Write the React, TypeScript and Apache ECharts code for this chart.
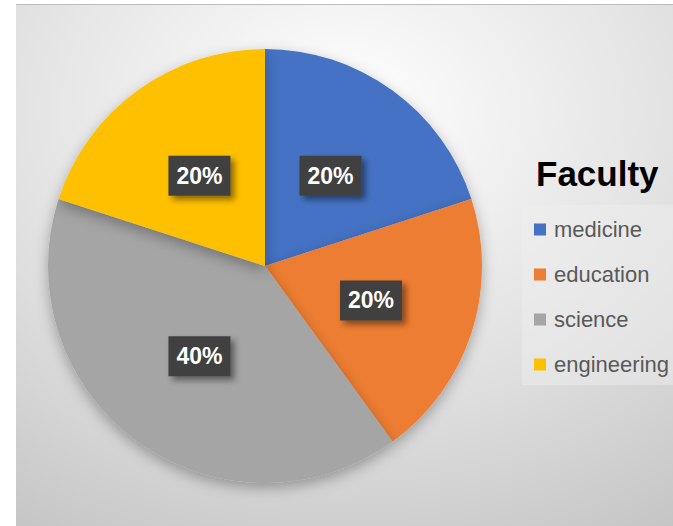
import React, { useEffect, useRef } from "react";
import * as echarts from "echarts";

const categories = ["medicine", "education", "science", "engineering"];
const values = [1, 1, 2, 1];
const colors = ["#4472C4", "#ED7D31", "#A5A5A5", "#FFC000"];
const titleText = "Faculty";

export default function App() {
  const ref = useRef<HTMLDivElement>(null);
  useEffect(() => {
    const chart = echarts.init(ref.current!, null, { renderer: "svg" });
    chart.setOption({
      animation: false,
      graphic: [
        {
          type: "rect",
          z: -10,
          shape: { x: 16, y: 4, width: 680, height: 540 },
          style: {
            fill: new echarts.graphic.RadialGradient(0.48, 0.2, 0.95, [
              { offset: 0, color: "#ffffff" },
              { offset: 0.55, color: "#e0e0e0" },
              { offset: 1, color: "#c2c2c2" },
            ]),
          },
        },
        {
          type: "line",
          z: -9,
          shape: { x1: 16, y1: 4.5, x2: 680, y2: 4.5 },
          style: { stroke: "#bdbdbd", lineWidth: 1 },
        },
        {
          type: "rect",
          z: -8,
          shape: { x: 522, y: 205, width: 160, height: 180 },
          style: { fill: "rgba(240,240,240,0.45)" },
        },
      ],
      title: {
        text: titleText,
        left: 536,
        top: 156,
        padding: 0,
        textStyle: {
          fontSize: 35,
          fontWeight: "bold",
          color: "#000000",
          fontFamily: "Liberation Sans",
        },
      },
      legend: {
        orient: "vertical",
        left: 534,
        top: 218,
        padding: 0,
        icon: "rect",
        itemWidth: 12,
        itemHeight: 12,
        itemGap: 22,
        data: categories,
        textStyle: {
          fontSize: 22,
          lineHeight: 23,
          color: "#595959",
          fontFamily: "Liberation Sans",
          padding: [0, 0, 0, 3],
        },
      },
      series: [
        {
          type: "pie",
          center: [265, 266],
          radius: 217,
          startAngle: 90,
          clockwise: true,
          color: colors,
          itemStyle: {
            borderWidth: 0,
            shadowBlur: 14,
            shadowColor: "rgba(0,0,0,0.3)",
            shadowOffsetY: 5,
          },
          label: {
            show: true,
            position: "inside",
            formatter: (p: any) => Math.round(p.percent) + "%",
            color: "#ffffff",
            fontSize: 23,
            fontWeight: "bold",
            fontFamily: "Liberation Sans",
            backgroundColor: "#404040",
            padding: [9, 8, 8, 8],
            shadowBlur: 6,
            shadowColor: "rgba(0,0,0,0.45)",
            shadowOffsetX: 4,
            shadowOffsetY: 4,
          },
          labelLine: { show: false },
          emphasis: { disabled: true },
          data: categories.map((c, i) => ({ name: c, value: values[i] })),
        },
      ],
    });
    return () => chart.dispose();
  }, []);
  return (
    <div
      ref={ref}
      style={{ position: "absolute", left: 0, top: 0, width: 673, height: 526 }}
    />
  );
}
